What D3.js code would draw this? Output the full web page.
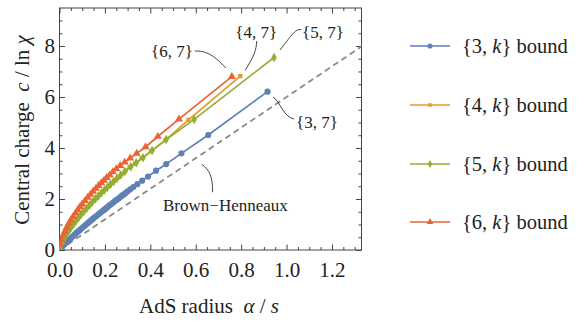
<!DOCTYPE html>
<html lang="en">
<head>
<meta charset="UTF-8">
<title>Central charge bound</title>
<style>
  body { margin: 0; background: #fff; }
  svg { display: block; }
  svg text { font-family: "Liberation Serif", "DejaVu Serif", serif; }
  .tick text { font-size: 21px; fill: #222; }
  .tick line { stroke: #444; }
  .label { font-size: 21px; fill: #222; white-space: pre; }
  .note { font-size: 17px; fill: #222; }
  .legend text { font-size: 20.5px; fill: #222; white-space: pre; }
</style>
</head>
<body>
<svg id="chart" width="587" height="322"></svg>
<script src="https://d3js.org/d3.v7.min.js"></script>
<script>
// {p, k} bounds: [AdS radius alpha/s, c / ln chi]
const bound3 = [[0.916,6.21],[0.655,4.51],[0.537,3.79],[0.470,3.37],[0.425,3.11],[0.390,2.88],[0.364,2.72],[0.343,2.58],[0.325,2.47],[0.312,2.38],[0.300,2.30],[0.290,2.23],[0.280,2.16],[0.272,2.11],[0.264,2.05],[0.257,2.00],[0.250,1.96],[0.243,1.91],[0.235,1.85],[0.227,1.79],[0.220,1.75],[0.212,1.69],[0.204,1.63],[0.196,1.57],[0.188,1.52],[0.180,1.46],[0.172,1.40],[0.164,1.34],[0.156,1.29],[0.148,1.23],[0.140,1.17],[0.132,1.11],[0.124,1.05],[0.116,0.99],[0.108,0.93],[0.100,0.87],[0.092,0.80],[0.084,0.74],[0.076,0.68],[0.068,0.61],[0.060,0.55],[0.052,0.48],[0.044,0.42],[0.036,0.35],[0.028,0.28],[0.020,0.21],[0.012,0.13],[0.005,0.06]];
const bound4 = [[0.796,6.82],[0.568,5.10],[0.466,4.31],[0.403,3.88],[0.362,3.60],[0.332,3.39],[0.308,3.24],[0.290,3.11],[0.273,2.98],[0.257,2.85],[0.242,2.73],[0.228,2.62],[0.214,2.50],[0.201,2.39],[0.188,2.28],[0.175,2.16],[0.162,2.05],[0.149,1.93],[0.136,1.80],[0.123,1.68],[0.111,1.56],[0.099,1.44],[0.088,1.32],[0.077,1.20],[0.066,1.07],[0.056,0.95],[0.046,0.82],[0.037,0.70],[0.028,0.57],[0.020,0.44],[0.013,0.31],[0.006,0.18],[0.002,0.08]];
const bound5 = [[0.945,7.55],[0.593,5.12],[0.470,4.33],[0.408,3.90],[0.368,3.62],[0.338,3.42],[0.314,3.26],[0.288,3.08],[0.270,2.94],[0.254,2.81],[0.239,2.69],[0.225,2.58],[0.211,2.46],[0.198,2.35],[0.185,2.24],[0.172,2.12],[0.159,2.01],[0.146,1.89],[0.133,1.76],[0.120,1.64],[0.108,1.52],[0.096,1.40],[0.085,1.28],[0.074,1.16],[0.063,1.03],[0.053,0.91],[0.043,0.78],[0.034,0.66],[0.025,0.53],[0.017,0.40],[0.010,0.27],[0.004,0.14]];
const bound6 = [[0.759,6.80],[0.526,5.13],[0.433,4.45],[0.379,4.04],[0.340,3.79],[0.311,3.60],[0.287,3.44],[0.267,3.31],[0.250,3.18],[0.235,3.06],[0.221,2.94],[0.208,2.84],[0.196,2.73],[0.184,2.63],[0.172,2.52],[0.160,2.41],[0.148,2.30],[0.136,2.18],[0.124,2.06],[0.112,1.93],[0.100,1.80],[0.090,1.69],[0.080,1.57],[0.070,1.44],[0.060,1.31],[0.050,1.17],[0.041,1.04],[0.032,0.89],[0.024,0.74],[0.016,0.58],[0.009,0.40],[0.003,0.20]];
// Brown-Henneaux line c = 6 alpha
const brownX = [0, 1.33];
const brownY = [0, 7.98];

const seriesNames = ["3", "4", "5", "6"];
const seriesColors = ["#5e81b5", "#e19c24", "#8fb032", "#eb6235"];
const xTicks = [0, 0.2, 0.4, 0.6, 0.8, 1.0, 1.2];
const xTickLabels = ["0.0", "0.2", "0.4", "0.6", "0.8", "1.0", "1.2"];
const yTicks = [0, 2, 4, 6, 8];
const yTickLabels = ["0", "2", "4", "6", "8"];

const svg = d3.select('#chart');
const pLeft = 59.5, pRight = 361.5, pTop = 8, pBottom = 250;

const x = d3.scaleLinear().domain([0, 1.33]).range([pLeft, pRight]);
const y = d3.scaleLinear().domain([0, 9.49]).range([pBottom, pTop]);

const xMinor = d3.range(0, 1.331, 0.05).filter(v => Math.abs(v * 5 - Math.round(v * 5)) > 1e-6);
const yMinor = d3.range(0, 9.5, 0.5).filter(v => v % 2 !== 0);

// frame ticks (inward), labels on bottom/left only
function addAxis(axisFn, scale, pos, vals, labels, size) {
  const ax = axisFn(scale).tickValues(vals).tickSize(-size)
    .tickFormat(labels ? (d, i) => labels[i] : '');
  const g = svg.append('g').attr('transform', pos).call(ax)
    .attr('font-family', null).attr('font-size', null);
  g.select('.domain').remove();
  return g;
}
addAxis(d3.axisBottom, x, `translate(0,${pBottom})`, xTicks, xTickLabels, 5.5).call(g => g.selectAll('text').attr('dy', 0).attr('y', 27));
addAxis(d3.axisBottom, x, `translate(0,${pBottom})`, xMinor, null, 3);
addAxis(d3.axisTop, x, `translate(0,${pTop})`, xTicks, null, 5.5);
addAxis(d3.axisTop, x, `translate(0,${pTop})`, xMinor, null, 3);
addAxis(d3.axisLeft, y, `translate(${pLeft},0)`, yTicks, yTickLabels, 5.5).call(g => g.selectAll('text').attr('x', -4.5).attr('dy', '0.33em'));
addAxis(d3.axisLeft, y, `translate(${pLeft},0)`, yMinor, null, 3);
addAxis(d3.axisRight, y, `translate(${pRight},0)`, yTicks, null, 5.5);
addAxis(d3.axisRight, y, `translate(${pRight},0)`, yMinor, null, 3);

svg.append('rect')
  .attr('x', pLeft).attr('y', pTop)
  .attr('width', pRight - pLeft).attr('height', pBottom - pTop)
  .attr('fill', 'none').attr('stroke', '#444').attr('stroke-width', 1);

svg.append('clipPath').attr('id', 'clip')
  .append('rect').attr('x', pLeft).attr('y', pTop)
  .attr('width', pRight - pLeft).attr('height', pBottom - pTop);

const plot = svg.append('g').attr('clip-path', 'url(#clip)');

// dashed Brown-Henneaux line
plot.append('path')
  .datum(brownX.map((v, i) => [v, brownY[i]]))
  .attr('d', d3.line().x(d => x(d[0])).y(d => y(d[1])))
  .attr('fill', 'none').attr('stroke', '#8a8a8a')
  .attr('stroke-width', 1.8).attr('stroke-dasharray', '6,4');

const allSeries = [bound3, bound4, bound5, bound6];
const symbols = [d3.symbolCircle, d3.symbolSquare, d3.symbolDiamond, d3.symbolTriangle];
const symSizes = [30, 18, 26, 28];
const line = d3.line().x(d => x(d[0])).y(d => y(d[1]));

allSeries.forEach((data, i) => {
  plot.append('path').datum(data).attr('d', line)
    .attr('fill', 'none').attr('stroke', seriesColors[i]).attr('stroke-width', 1.7);
  plot.selectAll('.m' + i).data(data).enter().append('path')
    .attr('class', 'm' + i)
    .attr('d', d3.symbol().type(symbols[i]).size(symSizes[i]))
    .attr('transform', d => `translate(${x(d[0])},${y(d[1])})`)
    .attr('fill', seriesColors[i]);
});

// callouts, offsets from the labelled point
const callouts = [
  { pt: bound6[0], text: '{6, 7}', anchor: 'end', tx: -39, ty: -20, d: [[-37, -25.6], [-27, -25.6], [-20, -23.6], [-6, -8.6]] },
  { pt: bound4[0], text: '{4, 7}', anchor: 'middle', tx: 16, ty: -38, d: [[16.5, -35], [16, -26], [14, -20], [5, -6]] },
  { pt: bound5[0], text: '{5, 7}', anchor: 'start', tx: 28, ty: -19.5, d: [[27, -28], [21, -28], [19, -24.5], [6, -7.5]] },
  { pt: bound3[0], text: '{3, 7}', anchor: 'start', tx: 28.6, ty: 36.4, d: [[5.6, 5.4], [12.6, 9.4], [15.6, 25.4], [26.6, 27.4]] },
  { pt: [0.626, 6 * 0.626], text: 'Brown\u2212Henneaux', anchor: 'start', tx: -38.6, ty: 57, d: [[0, 10], [8, 16], [11, 22], [11, 38]] }
];
callouts.forEach(c => {
  const px = x(c.pt[0]), py = y(c.pt[1]);
  const p = c.d.map(o => [px + o[0], py + o[1]]);
  svg.append('path')
    .attr('d', `M${p[0]}C${p[1]} ${p[2]} ${p[3]}`)
    .attr('fill', 'none').attr('stroke', '#444').attr('stroke-width', 1);
  svg.append('text').attr('class', 'note')
    .attr('x', px + c.tx).attr('y', py + c.ty)
    .attr('text-anchor', c.anchor).text(c.text);
});

// axis labels
const xl = svg.append('text').attr('class', 'label')
  .attr('x', 209).attr('y', 313).attr('text-anchor', 'middle');
xl.append('tspan').text('AdS radius  ');
xl.append('tspan').attr('font-style', 'italic').text('\u03b1');
xl.append('tspan').text(' / ');
xl.append('tspan').attr('font-style', 'italic').text('s');

const yl = svg.append('text').attr('class', 'label')
  .attr('transform', 'translate(29,130) rotate(-90)').attr('text-anchor', 'middle');
yl.append('tspan').text('Central charge  ');
yl.append('tspan').attr('font-style', 'italic').text('c');
yl.append('tspan').text(' / ln ');
yl.append('tspan').attr('font-style', 'italic').text('\u03c7');

// legend
const legendY = [46, 105, 164, 222];
const legend = svg.append('g').attr('class', 'legend');
seriesNames.forEach((n, i) => {
  const g = legend.append('g').attr('transform', `translate(0,${legendY[i]})`);
  g.append('line').attr('x1', 410).attr('x2', 450)
    .attr('stroke', seriesColors[i]).attr('stroke-width', 1.7);
  g.append('path').attr('d', d3.symbol().type(symbols[i]).size(symSizes[i] * 0.7))
    .attr('transform', 'translate(430,0)').attr('fill', seriesColors[i]);
  const t = g.append('text').attr('x', 462).attr('y', 7);
  t.append('tspan').text(`{${n}, `);
  t.append('tspan').attr('font-style', 'italic').text('k');
  t.append('tspan').text('} bound');
});
</script>
</body>
</html>
